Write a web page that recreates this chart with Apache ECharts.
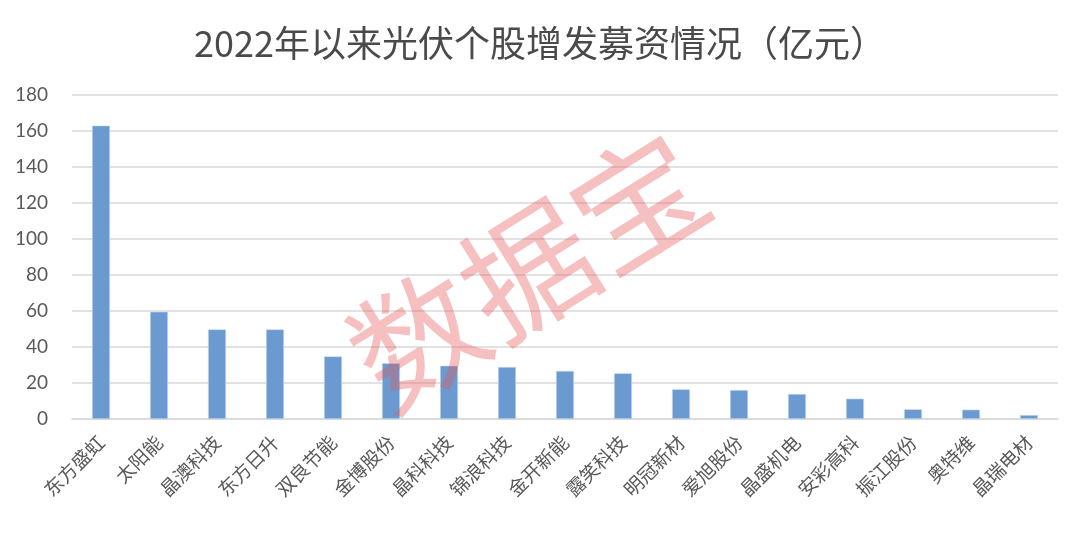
<!DOCTYPE html>
<html><head><meta charset="utf-8">
<script src="https://cdn.jsdelivr.net/npm/echarts@6/dist/echarts.min.js"></script>
<style>html,body{margin:0;padding:0;background:#fff}#c{width:1080px;height:535px}</style>
</head><body><div id="c"></div>
<script>
const titleText = '2022年以来光伏个股增发募资情况（亿元）';
const categories = ['东方盛虹','太阳能','晶澳科技','东方日升','双良节能','金博股份','晶科科技','锦浪科技','金开新能','露笑科技','明冠新材','爱旭股份','晶盛机电','安彩高科','振江股份','奥特维','晶瑞电材'];
const values = [163, 59.6, 49.8, 49.8, 34.8, 31, 29.6, 28.9, 26.7, 25.4, 16.5, 16.1, 13.9, 11.3, 5.4, 5.2, 2.2];
const yTicks = [0, 20, 40, 60, 80, 100, 120, 140, 160, 180];
const watermark = '数据宝';

const chart = echarts.init(document.getElementById('c'));
chart.setOption({
  backgroundColor: '#fff',
  animation: false,
  title: {
    text: titleText, left: 'center', top: 20,
    textStyle: {fontFamily: 'Noto Sans CJK SC', fontSize: 36, fontWeight: 'normal', color: '#4a4a4a'}
  },
  grid: {left: 72, right: 22, top: 95, bottom: 116},
  xAxis: {
    type: 'category', data: categories,
    axisLine: {lineStyle: {color: '#d9d9d9', width: 1.5}},
    axisTick: {show: false},
    axisLabel: {rotate: 45, color: '#595959', fontSize: 19, fontFamily: 'Noto Sans CJK SC', margin: 20, interval: 0}
  },
  yAxis: {
    type: 'value', min: yTicks[0], max: yTicks[yTicks.length-1], interval: 20,
    axisLine: {show: false}, axisTick: {show: false},
    splitLine: {lineStyle: {color: '#d9d9d9', width: 1.5}},
    axisLabel: {color: '#595959', fontSize: 19, fontFamily: 'Lato', margin: 24}
  },
  series: [{
    type: 'bar', data: values, barWidth: 18,
    itemStyle: {color: '#6a9ad0', borderColor: '#c9dcf0', borderWidth: 0.6}
  }],
  graphic: [{
    type: 'text', x: 528, y: 270, rotation: Math.PI * 32 / 180, z: 100,
    style: {text: watermark, fontSize: 130, fontFamily: 'Noto Sans CJK SC', fill: 'rgba(232,90,90,0.38)', align: 'center', verticalAlign: 'middle'}
  }]
});
</script></body></html>
